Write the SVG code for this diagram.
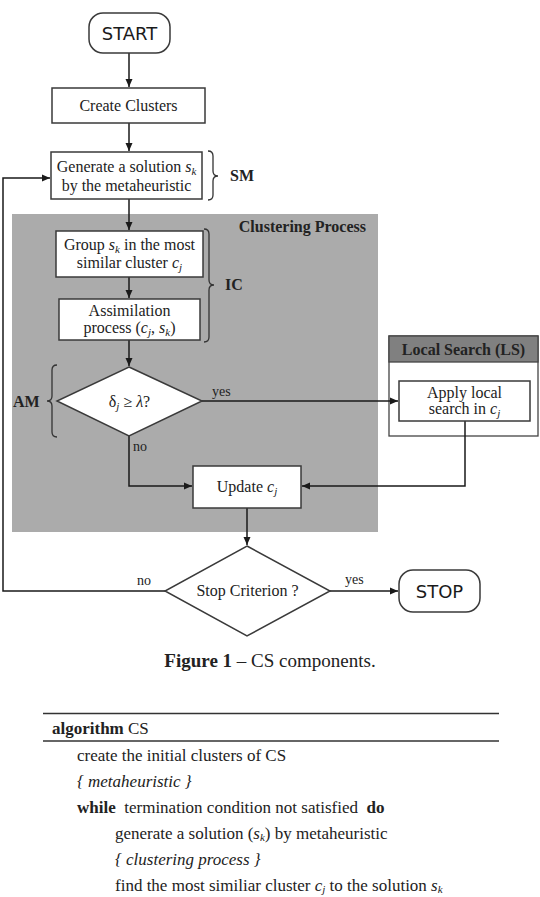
<svg xmlns="http://www.w3.org/2000/svg" width="540" height="897" viewBox="0 0 540 897">
<defs>
<marker id="ah" markerWidth="8" markerHeight="8" refX="8" refY="4" orient="auto" markerUnits="userSpaceOnUse">
<path d="M0,0.5 L8,4 L0,7.5 Z" fill="#1a1a1a"/>
</marker>
<style>
.ln{fill:none;stroke:#1a1a1a;stroke-width:1.5}
.bx{fill:#fff;stroke:#3a3a3a;stroke-width:1.5}
.t{font-family:"Liberation Serif","Times New Roman",serif;font-size:16px;fill:#222;text-anchor:middle}
.tl{font-family:"Liberation Serif","Times New Roman",serif;font-size:16px;fill:#222}
.alg{font-family:"Liberation Serif","Times New Roman",serif;font-size:17px;fill:#222}
.b{font-weight:bold}
.s{font-family:"DejaVu Sans",Verdana,sans-serif;font-size:18px;fill:#1a1a1a;text-anchor:middle}
.lab{font-family:"Liberation Serif","Times New Roman",serif;font-size:14px;fill:#222}
.br{fill:none;stroke:#333;stroke-width:1.3}
.i{font-style:italic}
</style>
</defs>
<rect width="540" height="897" fill="#fff"/>
<g id="clustering-area">
<rect x="12" y="214" width="366" height="318" fill="#ababab"/>
<text class="tl b" x="366" y="232" text-anchor="end">Clustering Process</text>
</g>
<g id="local-search-area">
<rect x="389" y="336" width="149" height="100" fill="#fff" stroke="#444" stroke-width="1.3"/>
<rect x="389" y="336" width="149" height="26" fill="#808080" stroke="#444" stroke-width="1.3"/>
<text class="t b" x="463.5" y="355">Local Search (LS)</text>
</g>
<g id="connectors">
<line class="ln" x1="129" y1="53" x2="129" y2="87" marker-end="url(#ah)"/>
<line class="ln" x1="129" y1="123" x2="129" y2="151" marker-end="url(#ah)"/>
<line class="ln" x1="129" y1="199" x2="129" y2="230" marker-end="url(#ah)"/>
<line class="ln" x1="129" y1="277" x2="129" y2="298" marker-end="url(#ah)"/>
<line class="ln" x1="129" y1="340" x2="129" y2="366" marker-end="url(#ah)"/>
<line class="ln" x1="202" y1="401" x2="398" y2="401" marker-end="url(#ah)"/>
<text class="lab" x="212" y="396">yes</text>
<polyline class="ln" points="129,436 129,486 192,486" marker-end="url(#ah)"/>
<text class="lab" x="133" y="451">no</text>
<polyline class="ln" points="465,421 465,486 302,486" marker-end="url(#ah)"/>
<line class="ln" x1="247" y1="508" x2="247" y2="545" marker-end="url(#ah)"/>
<polyline class="ln" points="165,591 3,591 3,178 50,178" marker-end="url(#ah)"/>
<text class="lab" x="137" y="585">no</text>
<line class="ln" x1="330" y1="591" x2="398" y2="591" marker-end="url(#ah)"/>
<text class="lab" x="345" y="584">yes</text>
</g>
<g id="start">
<rect class="bx" x="89" y="13" width="81" height="40" rx="14"/>
<text class="s" x="129.5" y="40">START</text>
</g>
<g id="create-clusters">
<rect class="bx" x="52" y="88" width="153" height="35"/>
<text class="t" x="128.5" y="111">Create Clusters</text>
</g>
<g id="generate">
<rect class="bx" x="51" y="152" width="151" height="47"/>
<text class="t" x="126.5" y="172">Generate a solution <tspan class="i">s</tspan><tspan class="i" font-size="11" dy="3">k</tspan></text>
<text class="t" x="126.5" y="191">by the metaheuristic</text>
<path class="br" d="M208,151 Q213,151 213,156 L213,171 Q213,176 218,176 Q213,176 213,181 L213,195 Q213,200 208,200"/>
<text class="tl b" x="230" y="181">SM</text>
</g>
<g id="group">
<rect class="bx" x="56" y="231" width="147" height="46"/>
<text class="t" x="129.5" y="250">Group <tspan class="i">s</tspan><tspan class="i" font-size="11" dy="3">k</tspan><tspan dy="-3"> in the most</tspan></text>
<text class="t" x="129.5" y="268">similar cluster <tspan class="i">c</tspan><tspan class="i" font-size="11" dy="3">j</tspan></text>
</g>
<g id="assimilation">
<rect class="bx" x="59" y="299" width="141" height="41"/>
<text class="t" x="129.5" y="316">Assimilation</text>
<text class="t" x="129.5" y="333">process (<tspan class="i">c</tspan><tspan class="i" font-size="11" dy="3">j</tspan><tspan dy="-3">, </tspan><tspan class="i">s</tspan><tspan class="i" font-size="11" dy="3">k</tspan><tspan dy="-3">)</tspan></text>
<path class="br" d="M204,229 Q209,229 209,234 L209,280 Q209,285 214,285 Q209,285 209,290 L209,337 Q209,342 204,342"/>
<text class="tl b" x="225" y="290">IC</text>
</g>
<g id="decision-delta">
<polygon class="bx" points="129,367 202,401 129,436 57,401"/>
<text class="t" x="129.5" y="407">δ<tspan font-size="11" dy="3" class="i">j</tspan><tspan dy="-3"> ≥ </tspan><tspan class="i">λ</tspan>?</text>
<path class="br" d="M57,365 Q52,365 52,370 L52,396 Q52,401 47,401 Q52,401 52,406 L52,432 Q52,437 57,437"/>
<text class="tl b" x="13" y="407">AM</text>
</g>
<g id="apply-ls">
<rect class="bx" x="399" y="381" width="131" height="40"/>
<text class="t" x="464.5" y="398">Apply local</text>
<text class="t" x="464.5" y="414">search in <tspan class="i">c</tspan><tspan class="i" font-size="11" dy="3">j</tspan></text>
</g>
<g id="update">
<rect class="bx" x="193" y="466" width="108" height="42"/>
<text class="t" x="247" y="492">Update <tspan class="i">c</tspan><tspan class="i" font-size="11" dy="3">j</tspan></text>
</g>
<g id="stop-criterion">
<polygon class="bx" points="247,546 330,591 247,636 165,591"/>
<text class="t" x="247.5" y="596">Stop Criterion ?</text>
</g>
<g id="stop">
<rect class="bx" x="399" y="570" width="81" height="42" rx="14"/>
<text class="s" x="439.5" y="598">STOP</text>
</g>
<g id="caption">
<text class="t" x="270" y="667" style="font-size:19px"><tspan class="b">Figure 1</tspan> – CS components.</text>
</g>
<g id="algorithm">
<line x1="43" y1="713.5" x2="499" y2="713.5" stroke="#333" stroke-width="1.5"/>
<line x1="43" y1="741" x2="499" y2="741" stroke="#333" stroke-width="1.5"/>
<text class="alg" x="52" y="734"><tspan class="b">algorithm</tspan> CS</text>
<text class="alg" x="77" y="761">create the initial clusters of CS</text>
<text class="alg i" x="77" y="787" fill="#444">{ metaheuristic }</text>
<text class="alg" x="77" y="813" xml:space="preserve"><tspan class="b">while</tspan>  termination condition not satisfied  <tspan class="b">do</tspan></text>
<text class="alg" x="115" y="839">generate a solution (<tspan class="i">s</tspan><tspan class="i" font-size="11" dy="2">k</tspan><tspan dy="-2">) by metaheuristic</tspan></text>
<text class="alg i" x="115" y="865" fill="#444">{ clustering process }</text>
<text class="alg" x="115" y="891">find the most similiar cluster <tspan class="i">c</tspan><tspan class="i" font-size="11" dy="2">j</tspan><tspan dy="-2"> to the solution </tspan><tspan class="i">s</tspan><tspan class="i" font-size="11" dy="2">k</tspan></text>
</g>
</svg>
